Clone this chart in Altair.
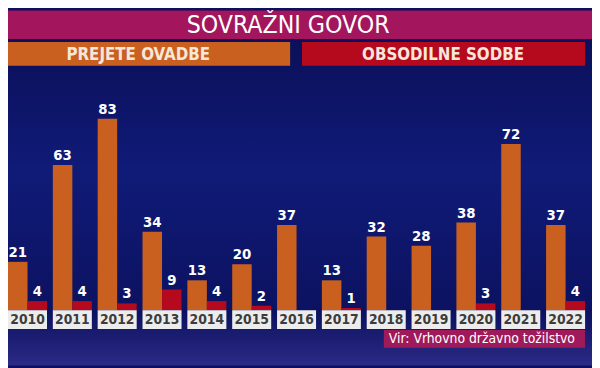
import altair as alt
import pandas as pd

years = ["2010", "2011", "2012", "2013", "2014", "2015", "2016",
         "2017", "2018", "2019", "2020", "2021", "2022"]
prejete = [21, 63, 83, 34, 13, 20, 37, 13, 32, 28, 38, 72, 37]
obsodilne = [4, 4, 3, 9, 4, 2, None, 1, None, None, 3, None, 4]

series_names = ["PREJETE OVADBE", "OBSODILNE SODBE"]
series_colors = ["#c9601f", "#b5091d"]
title_text = "SOVRAŽNI GOVOR"
source_text = "Vir: Vrhovno državno tožilstvo"

rows = []
for y, a, b in zip(years, prejete, obsodilne):
    rows.append({"year": y, "series": series_names[0], "value": a})
    if b is not None:
        rows.append({"year": y, "series": series_names[1], "value": b})
df = pd.DataFrame(rows)
df_years = pd.DataFrame({"year": years})
one = pd.DataFrame({"k": [0]})

COND = "Liberation Sans Narrow, DejaVu Sans Condensed, Roboto Condensed, Roboto, sans-serif"

x_enc = alt.X("year:N", sort=years, axis=None,
              scale=alt.Scale(range=[0, 585], paddingInner=0.13, paddingOuter=0))
y_scale = alt.Scale(domain=[0, 100], range=[304, 70])
xoff = alt.XOffset("series:N", sort=series_names,
                   scale=alt.Scale(domain=series_names, paddingInner=0, paddingOuter=0))

bg = alt.Chart(one).mark_rect(
    fill={"gradient": "linear", "x1": 0, "y1": 0, "x2": 0, "y2": 1,
          "stops": [{"offset": 0, "color": "#0a0d52"},
                    {"offset": 0.45, "color": "#101b78"},
                    {"offset": 0.85, "color": "#0c1260"},
                    {"offset": 1, "color": "#2c2a86"}]}
).encode(x=alt.value(0), x2=alt.value(592), y=alt.value(0), y2=alt.value(360))

bars = alt.Chart(df).mark_bar().encode(
    x=x_enc,
    xOffset=xoff,
    y=alt.Y("value:Q", scale=y_scale, axis=None),
    color=alt.Color("series:N", scale=alt.Scale(domain=series_names, range=series_colors), legend=None),
)

labels = alt.Chart(df).mark_text(
    color="white", fontSize=15, fontWeight="bold", baseline="bottom", dy=-2, font=COND
).encode(
    x=x_enc,
    xOffset=xoff,
    y=alt.Y("value:Q", scale=y_scale, axis=None),
    text=alt.Text("value:Q", format="d"),
)

year_boxes = alt.Chart(df_years).mark_rect(fill="#ececec").encode(
    x=x_enc, y=alt.value(304), y2=alt.value(323)
)
year_text = alt.Chart(df_years).mark_text(
    color="#3c3c3c", fontSize=14, fontWeight="bold", baseline="middle", font=COND
).encode(x=x_enc, y=alt.value(314), text="year:N")

title_box = alt.Chart(one).mark_rect(fill="#a3155c").encode(
    x=alt.value(0), x2=alt.value(592), y=alt.value(0), y2=alt.value(29))
title = alt.Chart(one).mark_text(
    text=title_text, color="white", fontSize=25, baseline="middle", font=COND
).encode(x=alt.value(284), y=alt.value(15))

leg1_box = alt.Chart(one).mark_rect(fill=series_colors[0]).encode(
    x=alt.value(0), x2=alt.value(286), y=alt.value(32), y2=alt.value(56))
leg2_box = alt.Chart(one).mark_rect(fill=series_colors[1]).encode(
    x=alt.value(298), x2=alt.value(585), y=alt.value(32), y2=alt.value(56))
leg1_text = alt.Chart(one).mark_text(
    text=series_names[0], color="#f7e6da", fontSize=17, fontWeight="bold", baseline="middle", font=COND
).encode(x=alt.value(132), y=alt.value(45))
leg2_text = alt.Chart(one).mark_text(
    text=series_names[1], color="#f7e6da", fontSize=17, fontWeight="bold", baseline="middle", font=COND
).encode(x=alt.value(441), y=alt.value(45))

src_box = alt.Chart(one).mark_rect(fill="#9e1a5a").encode(
    x=alt.value(381), x2=alt.value(585), y=alt.value(324), y2=alt.value(342))
src_text = alt.Chart(one).mark_text(
    text=source_text, color="white", fontSize=14, baseline="middle", align="left", font=COND
).encode(x=alt.value(386), y=alt.value(333))

chart = alt.layer(
    bg, bars, labels, year_boxes, year_text, title_box, title,
    leg1_box, leg2_box, leg1_text, leg2_text, src_box, src_text
).properties(
    width=592, height=360,
    autosize=alt.AutoSizeParams(type="fit", contains="padding"),
    padding=0,
    background="#0c1060",
).configure_view(stroke=None)

chart.save("out.html", embed_options={"renderer": "svg", "actions": False})
